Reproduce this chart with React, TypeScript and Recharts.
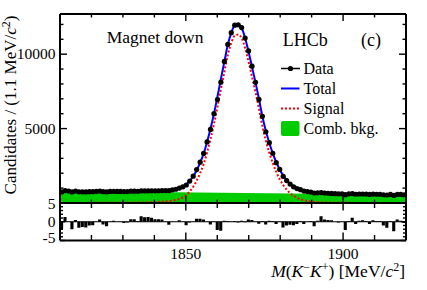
import React from 'react';
import {
  ComposedChart, Area, Line, Scatter, Bar, XAxis, YAxis, Legend, ReferenceLine,
} from 'recharts';

const FONT = "'Liberation Serif', 'Times New Roman', serif";

// histogram: 100 bins of 1.1 MeV from 1810 to 1920
const massRange = [1810, 1920];
const binWidth = 1.1;

const dataCounts = [
  747, 836, 802, 741, 808, 748, 751, 747, 759, 760,
  787, 799, 761, 746, 781, 785, 776, 779, 768, 769,
  794, 794, 782, 820, 814, 820, 819, 815, 824, 832,
  834, 829, 885, 925, 1000, 1088, 1210, 1472, 1802, 2243,
  2745, 3334, 4104, 4947, 6001, 6955, 8119, 9515, 10655, 11442,
  11951, 11974, 11787, 11081, 10219, 9195, 8113, 6960, 5825, 4788,
  4054, 3344, 2709, 2253, 1790, 1504, 1271, 1088, 967, 894,
  799, 766, 731, 667, 686, 702, 665, 654, 644, 627,
  617, 619, 559, 614, 632, 587, 605, 606, 598, 575,
  597, 589, 587, 555, 538, 579, 511, 582, 573, 556,
];

const totalFit = [
  803, 800, 799, 797, 794, 793, 790, 789, 787, 785,
  784, 782, 781, 780, 778, 777, 776, 776, 776, 775,
  775, 775, 776, 778, 780, 784, 788, 795, 804, 815,
  831, 852, 882, 925, 987, 1085, 1242, 1480, 1798, 2205,
  2703, 3300, 4098, 4996, 5993, 7141, 8338, 9486, 10634, 11431,
  11929, 11996, 11754, 11092, 10159, 9147, 8104, 7002, 5810, 4837,
  4035, 3332, 2740, 2248, 1855, 1543, 1300, 1118, 986, 888,
  816, 763, 726, 699, 678, 663, 650, 641, 634, 627,
  622, 617, 613, 609, 605, 602, 598, 596, 593, 590,
  587, 584, 582, 579, 576, 574, 571, 568, 566, 563,
];

const signalFit = [
  4, 4, 5, 5, 5, 6, 6, 7, 7, 8,
  9, 10, 11, 12, 13, 14, 16, 18, 20, 22,
  24, 27, 30, 34, 39, 45, 52, 61, 72, 86,
  104, 128, 160, 205, 270, 370, 530, 770, 1090, 1500,
  2000, 2600, 3400, 4300, 5300, 6450, 7650, 8800, 9950, 10750,
  11250, 11320, 11080, 10420, 9490, 8480, 7440, 6340, 5150, 4180,
  3380, 2680, 2090, 1600, 1210, 900, 660, 480, 350, 255,
  185, 135, 100, 75, 57, 44, 34, 27, 22, 18,
  15, 13, 11, 9, 8, 7, 6, 6, 5, 5,
  4, 4, 4, 3, 3, 3, 3, 2, 2, 2,
];

const pulls = [
  -2.0, 1.3, 0.1, -2.0, 0.5, -1.6, -1.4, -1.5, -1.0, -0.9,
  0.1, 0.6, -0.7, -1.2, 0.1, 0.3, 0.0, 0.1, -0.3, -0.2,
  0.7, 0.7, 0.2, 1.5, 1.2, 1.3, 1.1, 0.7, 0.7, 0.6,
  0.1, -0.8, 0.1, 0.0, 0.4, 0.1, -0.9, -0.2, 0.1, 0.8,
  0.8, 0.6, 0.1, -0.7, 0.1, -2.2, -2.4, 0.3, 0.2, 0.1,
  0.2, -0.2, 0.3, -0.1, 0.6, 0.5, 0.1, -0.5, 0.2, -0.7,
  0.3, 0.2, -0.6, 0.1, -1.5, -1.0, -0.8, -0.9, -0.6, 0.2,
  -0.6, 0.1, 0.2, -1.2, 0.3, 1.5, 0.6, 0.5, 0.4, 0.0,
  -0.2, 0.1, -2.2, 0.2, 1.1, -0.6, 0.3, 0.4, 0.2, -0.6,
  0.4, 0.2, 0.2, -1.0, -1.6, 0.2, -2.5, 0.6, 0.3, -0.3,
];

// combinatorial background (linear), at the range ends
const bkgMass = [1810, 1920];
const bkgFit = [800, 560];

const massTicks = [1820, 1830, 1840, 1850, 1860, 1870, 1880, 1890, 1900, 1910];
const massLabels = [1850, 1900];
const countTicks = [0, 1000, 2000, 3000, 4000, 5000, 6000, 7000, 8000, 9000, 10000, 11000, 12000];
const countLabels = [5000, 10000];
const pullTicks = [-5, -4, -3, -2, -1, 0, 1, 2, 3, 4, 5];
const pullLabels = [-5, 0, 5];

const rows = dataCounts.map((n, i) => ({
  m: +(massRange[0] + binWidth * (i + 0.5)).toFixed(2),
  n,
  total: totalFit[i],
  signal: signalFit[i],
  pull: pulls[i],
}));
const bkgRows = bkgMass.map((m, i) => ({ m, bkg: bkgFit[i] }));

const frame = { stroke: '#000', strokeWidth: 2 };

type Side = 'left' | 'right' | 'top' | 'bottom';

const makeTick = (side: Side, labels: number[], major: number, minor: number, showLabel: boolean) =>
  (props: any) => {
    const { x, y, payload } = props;
    const v = payload.value;
    const isMajor = labels.includes(v);
    const len = isMajor ? major : minor;
    let x2 = x;
    let y2 = y;
    if (side === 'left') x2 = x + len;
    if (side === 'right') x2 = x - len;
    if (side === 'top') y2 = y + len;
    if (side === 'bottom') y2 = y - len;
    let label = null;
    if (showLabel && isMajor) {
      if (side === 'left') {
        const shift = v === -5 ? -2.5 : v === 5 ? 1 : 0;
        label = (
          <text x={x - 4.5} y={y + shift + 5.3} textAnchor="end" fontFamily={FONT} fontSize={15.5} fill="#000">
            {v < 0 ? `-${Math.abs(v)}` : v}
          </text>
        );
      } else if (side === 'bottom') {
        label = (
          <text x={x} y={y + 18.8} textAnchor="middle" fontFamily={FONT} fontSize={15.5} fill="#000">
            {v}
          </text>
        );
      }
    }
    return (
      <g>
        <line x1={x} y1={y} x2={x2} y2={y2} stroke="#000" strokeWidth={1.4} />
        {label}
      </g>
    );
  };

const DataDot = (p: any) => <circle cx={p.cx} cy={p.cy} r={2.6} fill="#000" />;

const legendItems = [
  { label: 'Data', kind: 'data' },
  { label: 'Total', kind: 'total' },
  { label: 'Signal', kind: 'signal' },
  { label: 'Comb. bkg.', kind: 'bkg' },
];

const LegendBox = () => (
  <svg width={140} height={84} style={{ overflow: 'visible' }}>
    {legendItems.map((it, i) => {
      const base = 16 + i * 20;
      const mid = base - 5.5;
      return (
        <g key={it.label}>
          {it.kind === 'data' && (
            <g>
              <line x1={5} x2={24} y1={mid} y2={mid} stroke="#000" strokeWidth={1.5} />
              <circle cx={14.5} cy={mid} r={2.6} fill="#000" />
            </g>
          )}
          {it.kind === 'total' && <line x1={5} x2={23.5} y1={mid} y2={mid} stroke="#0000ff" strokeWidth={2} />}
          {it.kind === 'signal' && (
            <line x1={5} x2={23.5} y1={mid} y2={mid} stroke="#ff0000" strokeWidth={2} strokeDasharray="2 2" />
          )}
          {it.kind === 'bkg' && <rect x={5} y={mid - 7.5} width={18.5} height={15} rx={2} fill="#00cc00" />}
          <text x={27.5} y={base} fontFamily={FONT} fontSize={16} fill="#000">{it.label}</text>
        </g>
      );
    })}
  </svg>
);

const W = 427;
const H = 290;

const App: React.FC = () => (
  <div style={{ position: 'absolute', left: 0, top: 0, width: W, height: H, background: '#fff' }}>
    <div style={{ position: 'absolute', left: 0, top: 0 }}>
      <ComposedChart width={W} height={H} data={rows} margin={{ top: 0, right: 0, bottom: 0, left: 0 }}>
        <XAxis xAxisId="b" dataKey="m" type="number" domain={massRange} allowDataOverflow ticks={massTicks}
          interval={0} height={87} tickSize={0} tickMargin={0} tickLine={false} axisLine={frame}
          tick={makeTick('bottom', massLabels, 7, 3.5, false)} />
        <XAxis xAxisId="t" orientation="top" dataKey="m" type="number" domain={massRange} allowDataOverflow
          ticks={massTicks} interval={0} height={14} tickSize={0} tickMargin={0} tickLine={false} axisLine={frame}
          tick={makeTick('top', massLabels, 7, 3.5, false)} />
        <YAxis yAxisId="l" type="number" domain={[0, 12700]} allowDataOverflow ticks={countTicks} interval={0}
          width={60} tickSize={0} tickMargin={0} tickLine={false} axisLine={frame}
          tick={makeTick('left', countLabels, 7, 3.5, true)} />
        <YAxis yAxisId="r" orientation="right" type="number" domain={[0, 12700]} allowDataOverflow ticks={countTicks}
          interval={0} width={21} tickSize={0} tickMargin={0} tickLine={false} axisLine={frame}
          tick={makeTick('right', countLabels, 7, 3.5, false)} />
        <Area xAxisId="b" yAxisId="l" data={bkgRows} dataKey="bkg" type="linear" fill="#00cc00" fillOpacity={1}
          stroke="none" isAnimationActive={false} />
        <Line xAxisId="b" yAxisId="l" dataKey="signal" type="monotone" stroke="#ff0000" strokeWidth={2}
          strokeDasharray="2 2" dot={false} isAnimationActive={false} />
        <Line xAxisId="b" yAxisId="l" dataKey="total" type="monotone" stroke="#0000ff" strokeWidth={2}
          dot={false} isAnimationActive={false} />
        <Scatter xAxisId="b" yAxisId="l" dataKey="n" shape={DataDot} isAnimationActive={false} />
        <Legend layout="vertical" align="center" verticalAlign="middle"
          wrapperStyle={{ left: 276, top: 58, width: 140, height: 84 }} content={() => <LegendBox />} />
      </ComposedChart>
    </div>
    <div style={{ position: 'absolute', left: 0, top: 0 }}>
      <ComposedChart width={W} height={H} data={rows} margin={{ top: 0, right: 0, bottom: 0, left: 0 }}
        barCategoryGap={0} barGap={0}>
        <XAxis xAxisId="b" dataKey="m" type="number" domain={massRange} allowDataOverflow ticks={massTicks}
          interval={0} height={49.5} tickSize={0} tickMargin={0} tickLine={false} axisLine={frame}
          tick={makeTick('bottom', massLabels, 8, 5.5, true)} />
        <XAxis xAxisId="t" orientation="top" dataKey="m" type="number" domain={massRange} allowDataOverflow
          ticks={massTicks} interval={0} height={203} tickSize={0} tickMargin={0} tickLine={false} axisLine={frame}
          tick={makeTick('top', massLabels, 7.5, 5, false)} />
        <YAxis yAxisId="l" type="number" domain={[-5, 5]} allowDataOverflow ticks={pullTicks} interval={0}
          width={60} tickSize={0} tickMargin={0} tickLine={false} axisLine={frame}
          tick={makeTick('left', pullLabels, 5, 3, true)} />
        <YAxis yAxisId="r" orientation="right" type="number" domain={[-5, 5]} allowDataOverflow ticks={pullTicks}
          interval={0} width={21} tickSize={0} tickMargin={0} tickLine={false} axisLine={frame}
          tick={makeTick('right', pullLabels, 5, 3, false)} />
        <ReferenceLine xAxisId="b" yAxisId="l" y={0} stroke="#000" strokeWidth={1} />
        <Bar xAxisId="b" yAxisId="l" dataKey="pull" fill="#000" barSize={3.5} isAnimationActive={false} />
      </ComposedChart>
    </div>
    <svg width={W} height={H} style={{ position: 'absolute', left: 0, top: 0, pointerEvents: 'none' }}
      fontFamily={FONT} fill="#000">
      <text x={106.7} y={43.3} fontSize={17.5}>Magnet down</text>
      <text x={282.7} y={46} fontSize={18}>LHCb</text>
      <text x={361} y={45.5} fontSize={18}>(c)</text>
      <text transform="translate(15.5,105) rotate(-90)" textAnchor="middle" fontSize={17}>
        Candidates / (1.1 MeV/<tspan fontStyle="italic">c</tspan>
        <tspan dy={-6} fontSize={12}>2</tspan><tspan dy={6}>)</tspan>
      </text>
      <text x={405} y={277} textAnchor="end" fontSize={17.5}>
        <tspan fontStyle="italic">M</tspan>(<tspan fontStyle="italic">K</tspan>
        <tspan dy={-6} fontSize={12}>−</tspan><tspan dy={6} fontStyle="italic">K</tspan>
        <tspan dy={-6} fontSize={12}>+</tspan><tspan dy={6}>) [MeV/</tspan>
        <tspan fontStyle="italic">c</tspan><tspan dy={-6} fontSize={12}>2</tspan><tspan dy={6}>]</tspan>
      </text>
    </svg>
  </div>
);

export default App;
